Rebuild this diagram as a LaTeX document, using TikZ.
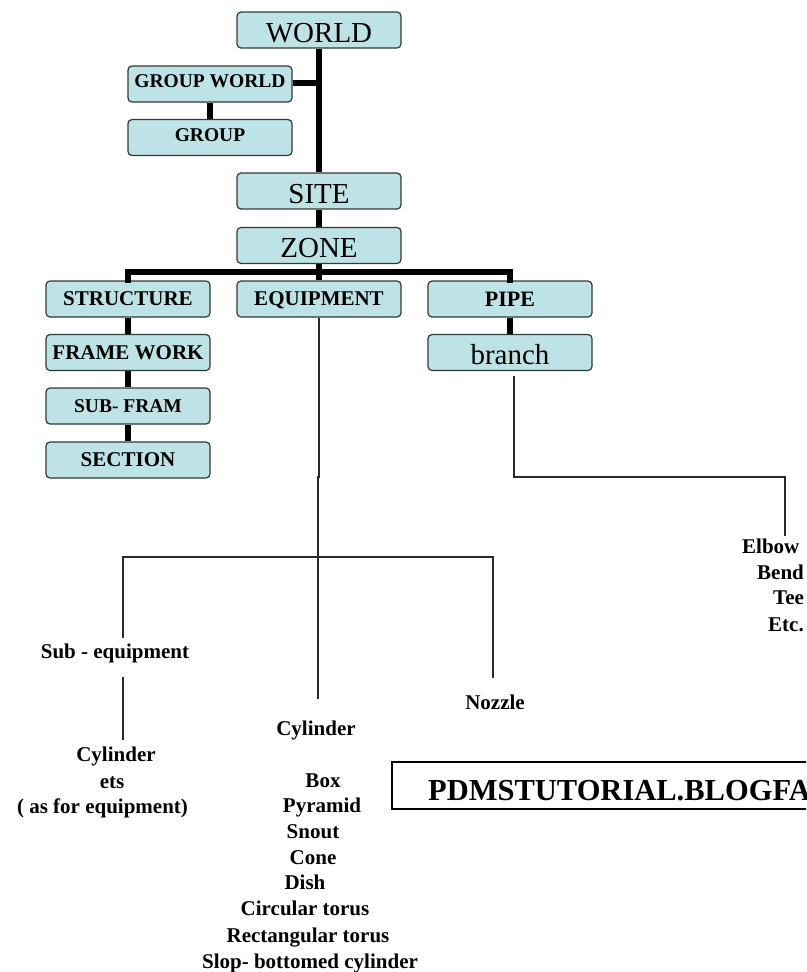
\documentclass[tikz,border=0pt]{standalone}
\usepackage{fontspec}
\setmainfont{Liberation Serif}
\definecolor{boxfill}{RGB}{189,227,230}
\definecolor{boxline}{RGB}{55,55,55}
\definecolor{thinline}{RGB}{40,40,40}
\begin{document}
\begin{tikzpicture}[x=1pt,y=-1pt,
  box/.style={draw=boxline, line width=1.2pt, fill=boxfill, rounded corners=4pt,
    minimum width=164pt, minimum height=36pt, inner sep=0pt,
    text height=13.9pt, text depth=0pt},
  bigtxt/.style={font=\fontsize{29}{29}\selectfont, text height=24pt},
  boldtxt/.style={font=\fontsize{21}{21}\selectfont\bfseries},
  smallbold/.style={font=\fontsize{19.5}{19.5}\selectfont\bfseries, text height=12.9pt, text depth=5pt},
  lbl/.style={inner sep=0pt, font=\fontsize{21}{21}\selectfont\bfseries,
    text height=13.9pt, text depth=0pt},
  bar/.style={line width=6pt, black},
  wire/.style={line width=1.3pt, thinline},
  urlbox/.style={draw, line width=2pt, minimum height=47pt, inner sep=0pt}
]
\useasboundingbox (0,0) rectangle (806,972);
\clip (0,0) rectangle (806,972);

% boxes
\node[box,bigtxt]   (world)  at (319,30)    {WORLD};
\node[box,smallbold](gworld) at (210,84)    {GROUP WORLD};
\node[box,smallbold](group)  at (210,137.5) {GROUP};
\node[box,bigtxt]   (site)   at (319,191)   {SITE};
\node[box,bigtxt]   (zone)   at (319,245.5) {ZONE};
\node[box,boldtxt]  (struct) at (128,299)   {STRUCTURE};
\node[box,boldtxt]  (equip)  at (319,299)   {EQUIPMENT};
\node[box,font=\fontsize{22}{22}\selectfont\bfseries, text height=14.5pt] (pipe) at (510,299) {PIPE};
\node[box,boldtxt]  (frame)  at (128,352.5) {FRAME WORK};
\node[box,smallbold,text depth=0pt](subfr)  at (128,406)   {SUB- FRAM};
\node[box,boldtxt]  (sect)   at (128,460)   {SECTION};
\node[box,bigtxt]   (branch) at (510,352.5) {branch};

% thick connectors
\coordinate (bus) at (319,272);
\coordinate (gj) at (319,83);
\draw[bar] (world.south) -- (site.north);
\draw[bar] (gworld.east |- gj) -- (gj);
\draw[bar] (gworld.south) -- (group.north);
\draw[bar] (site.south) -- (zone.north);
\draw[bar] (zone.south) -- (bus);
\draw[bar,line cap=rect] (struct.north) -- (struct.north |- bus) -- (pipe.north |- bus) -- (pipe.north);
\draw[bar] (bus) -- (equip.north);
\draw[bar] (struct.south) -- (frame.north);
\draw[bar] (frame.south) -- (subfr.north);
\draw[bar] (subfr.south) -- (sect.north);
\draw[bar] (pipe.south) -- (branch.north);

% text labels
\node[lbl] (subeq) at (115,652) {Sub - equipment};
\node[lbl] (cyl1)  at (116,755) {Cylinder};
\node[lbl] (ets)   at (112,782) {ets};
\node[lbl] (asfor) at (102.5,807) {( as for equipment)};
\node[lbl] (nozzle) at (495,703) {Nozzle};
\node[lbl] (cyl2)  at (316,729) {Cylinder};
\node[lbl] (box)   at (323,781) {Box};
\node[lbl] (pyr)   at (322,806) {Pyramid};
\node[lbl] (snout) at (313,832) {Snout};
\node[lbl] (cone)  at (313,858) {Cone};
\node[lbl] (dish)  at (305,883) {Dish};
\node[lbl] (ctor)  at (305,909) {Circular torus};
\node[lbl] (rtor)  at (308,936) {Rectangular torus};
\node[lbl] (slop)  at (310,962) {Slop- bottomed cylinder};
\node[lbl,anchor=west] (elbow) at (742,547) {Elbow};
\node[lbl,anchor=west] (bend)  at (757,573) {Bend};
\node[lbl,anchor=west] (tee)   at (773,598) {Tee};
\node[lbl,anchor=west] (etc)   at (768,625) {Etc.};

% url box
\node[urlbox, anchor=west, minimum width=460pt] (url) at (391,785.5) {};
\node[anchor=west, inner sep=0pt, font=\fontsize{30.5}{30.5}\selectfont\bfseries,
  text height=20pt, text depth=0pt] (urltxt) at (428,790) {PDMSTUTORIAL.BLOGFA.COM};

% thin connectors
\coordinate (ej) at (319,477);
\coordinate (ej2) at (318,477);
\coordinate (hb) at (318,557);
\coordinate (cyltop) at (318,699);
\coordinate (hl) at (123,557);
\coordinate (hr) at (493,557);
\coordinate (subtop) at (123,638);
\coordinate (noztop) at (493,678);
\coordinate (subbot) at (123,677);
\coordinate (cyl1top) at (123,740);
\draw[wire] (equip.south) -- (ej) -- (ej2) -- (cyltop);
\draw[wire] (subtop) -- (hl) -- (hr) -- (noztop);
\draw[wire] (subbot) -- (cyl1top);

\coordinate (bs) at (514,376);
\coordinate (bj) at (514,477);
\coordinate (bk) at (785,477);
\coordinate (elbtop) at (785,536);
\draw[wire] (bs) -- (bj) -- (bk) -- (elbtop);
\end{tikzpicture}
\end{document}
